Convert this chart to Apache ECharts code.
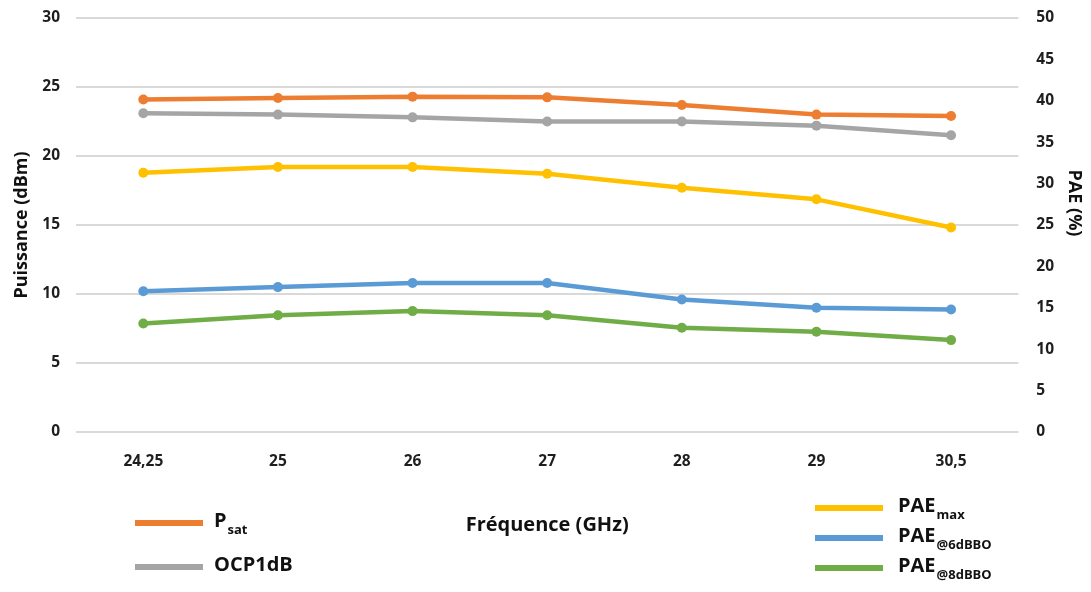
<!DOCTYPE html>
<html><head><meta charset="utf-8">
<script src="https://cdn.jsdelivr.net/npm/echarts@6/dist/echarts.min.js"></script>
<style>html,body{margin:0;padding:0;background:#fff}#c{width:1091px;height:592px}</style>
</head><body><div id="c"></div>
<script>
const categories = ['24,25','25','26','27','28','29','30,5'];
const psat = [24.1, 24.2, 24.3, 24.25, 23.7, 23.0, 22.9];
const ocp1dB = [23.1, 23.0, 22.8, 22.5, 22.5, 22.2, 21.5];
const paeMax = [31.3, 32.0, 32.0, 31.2, 29.5, 28.1, 24.7];
const pae6dB = [17.0, 17.5, 18.0, 18.0, 16.0, 15.0, 14.8];
const pae8dB = [13.1, 14.1, 14.6, 14.1, 12.6, 12.1, 11.1];
const leftTicks = [0, 30, 5];
const rightTicks = [0, 50, 5];

const FONT = 'Open Sans';
const chart = echarts.init(document.getElementById('c'));
const mk = (name, data, color, axis) => ({
  name, type: 'line', data, yAxisIndex: axis,
  symbol: 'circle', symbolSize: 10,
  lineStyle: {width: 4.5, color}, itemStyle: {color},
  emphasis: {disabled: true}
});
const rich = {
  b: {fontFamily: FONT, fontWeight: 'bold', fontSize: 20, color: '#111', lineHeight: 24, verticalAlign: 'top'},
  s: {fontFamily: FONT, fontWeight: 'bold', fontSize: 13, color: '#111', lineHeight: 14, verticalAlign: 'top', padding: [13,0,0,1]}
};
const labels = {
  'Psat': '{b|P}{s|sat}',
  'OCP1dB': '{b|OCP1dB}',
  'PAEmax': '{b|PAE}{s|max}',
  'PAE@6dBBO': '{b|PAE}{s|@6dBBO}',
  'PAE@8dBBO': '{b|PAE}{s|@8dBBO}'
};
chart.setOption({
  animation: false,
  grid: {left: 76, right: 70.5, top: 18, bottom: 160},
  legend: [
    {data: ['Psat','OCP1dB'], orient: 'vertical', left: 130, top: 506, itemGap: 18,
     icon: 'rect', itemWidth: 68, itemHeight: 6,
     formatter: n => labels[n], textStyle: {rich, padding: [0,0,0,6]}},
    {data: ['PAEmax','PAE@6dBBO','PAE@8dBBO'], orient: 'vertical', left: 810, top: 491, itemGap: 4,
     icon: 'rect', itemWidth: 68, itemHeight: 6,
     formatter: n => labels[n], textStyle: {rich, padding: [0,0,0,10]}}
  ],
  xAxis: {
    type: 'category', data: categories, boundaryGap: true,
    name: 'Fréquence (GHz)', nameLocation: 'middle', nameGap: 83,
    nameTextStyle: {fontFamily: FONT, fontWeight: 'bold', fontSize: 20, color: '#111'},
    axisLine: {show: false}, axisTick: {show: false},
    axisLabel: {fontFamily: FONT, fontWeight: 'bold', fontSize: 15.5, color: '#1e1e1e', margin: 22}
  },
  yAxis: [
    {type: 'value', min: leftTicks[0], max: leftTicks[1], interval: leftTicks[2],
     name: 'Puissance (dBm)', nameLocation: 'middle', nameGap: 44,
     nameTextStyle: {fontFamily: FONT, fontWeight: 'bold', fontSize: 18, color: '#111'},
     axisLine: {show: false}, axisTick: {show: false},
     axisLabel: {fontFamily: FONT, fontWeight: 'bold', fontSize: 15.5, color: '#1e1e1e', margin: 16},
     splitLine: {lineStyle: {color: '#d9d9d9', width: 2}}},
    {type: 'value', min: rightTicks[0], max: rightTicks[1], interval: rightTicks[2],
     name: 'PAE (%)', nameLocation: 'middle', nameGap: 42, nameRotate: -90,
     nameTextStyle: {fontFamily: FONT, fontWeight: 'bold', fontSize: 18, color: '#111', padding: [0, 44, 0, 0]},
     axisLine: {show: false}, axisTick: {show: false},
     axisLabel: {fontFamily: FONT, fontWeight: 'bold', fontSize: 15.5, color: '#1e1e1e', margin: 18},
     splitLine: {show: false}}
  ],
  series: [
    mk('Psat', psat, '#ED7D31', 0),
    mk('OCP1dB', ocp1dB, '#A5A5A5', 0),
    mk('PAEmax', paeMax, '#FFC000', 1),
    mk('PAE@6dBBO', pae6dB, '#5B9BD5', 1),
    mk('PAE@8dBBO', pae8dB, '#70AD47', 1)
  ]
});
</script></body></html>
